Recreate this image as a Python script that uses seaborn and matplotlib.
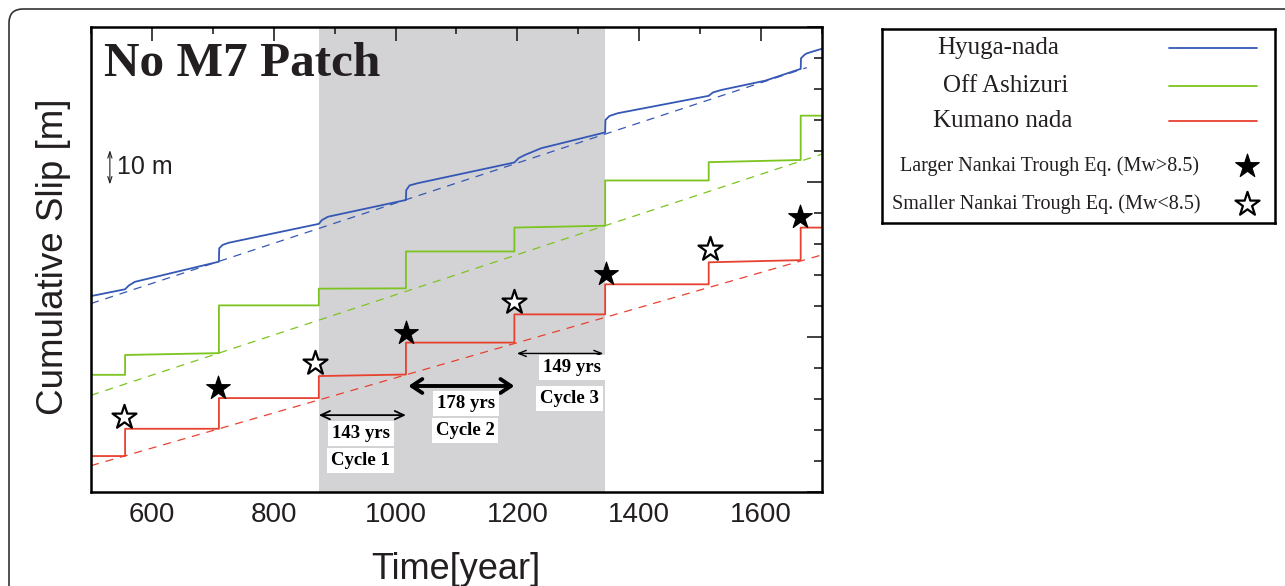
import numpy as np
import pandas as pd
import matplotlib
matplotlib.use("Agg")
import matplotlib.pyplot as plt
import seaborn as sns
from matplotlib.patches import FancyBboxPatch
from matplotlib.ticker import MultipleLocator

# ---------------- data ----------------
x_start, x_end = 500, 1700
event_years = [556, 710, 874, 1017, 1195, 1344, 1514, 1665]

red_seg_start = [11.6, 20.4, 30.3, 37.4, 48.2, 57.3, 67.0, 74.1, 85.3]
red_seg_end = [11.6, 20.4, 30.3, 37.9, 48.2, 57.3, 67.0, 74.8, 85.3]
green_seg_start = [37.8, 44.2, 60.2, 65.6, 77.6, 85.3, 100.5, 106.4, 121.4]
green_seg_end = [37.8, 44.8, 60.2, 65.7, 77.6, 85.9, 100.5, 107.1, 121.4]

blue_years = [500, 556, 562, 572, 710, 710.5, 716, 726, 874, 879, 889,
              1017, 1017.5, 1023, 1036, 1195, 1202, 1212, 1239,
              1344, 1344.5, 1351, 1365, 1514, 1521, 1535, 1607,
              1665, 1665.5, 1671, 1675, 1700]
blue_slip = [63.2, 65.4, 66.6, 67.8, 74.3, 78.6, 79.7, 80.4, 86.5, 87.7, 88.8,
             94.2, 97.4, 98.9, 99.6, 106.3, 107.7, 108.7, 110.9,
             116.0, 120.0, 121.3, 122.2, 127.8, 128.9, 129.7, 132.7,
             136.5, 139.9, 141.0, 141.5, 143.0]

blue_trend_years = [500, 1675]
blue_trend = [60.8, 136.9]
trend_years = [500, 1700]
green_trend = [31.2, 109.0]
red_trend = [8.5, 76.5]

large_eq_years = [709, 1017, 1346, 1664]
large_eq_slip = [33.6, 51.2, 70.2, 88.8]
small_eq_years = [554, 868, 1195, 1516]
small_eq_slip = [24.3, 41.5, 61.4, 78.4]

cycle_bounds = [874, 1017, 1195, 1344]
cycle_lengths = ["143 yrs", "178 yrs", "149 yrs"]
cycle_names = ["Cycle 1", "Cycle 2", "Cycle 3"]

series_names = ["Hyuga-nada", "Off Ashizuri", "Kumano nada"]
marker_names = ["Larger Nankai Trough Eq. (Mw>8.5)", "Smaller Nankai Trough Eq. (Mw<8.5)"]

# ---------------- style ----------------
sns.set_style("white")
plt.rcParams['font.family'] = ['Liberation Sans', 'DejaVu Sans']
SERIF = ['Liberation Serif', 'DejaVu Serif']
BLUE, GREEN, RED = "#3558b4", "#7cc41f", "#e8412f"
GRAY = "#d3d3d6"
TXT = "#231f20"


def step_path(seg_start, seg_end):
    bounds = [x_start] + event_years + [x_end]
    xs, ys = [], []
    for i in range(len(seg_start)):
        xs += [bounds[i], bounds[i + 1]]
        ys += [seg_start[i], seg_end[i]]
    return pd.DataFrame({"year": xs, "slip": ys})


fig = plt.figure(figsize=(12.85, 5.86), dpi=100)
ax = fig.add_axes([0.0708, 0.1604, 0.5689, 0.7935])

# shaded cycles
ax.axvspan(cycle_bounds[0], cycle_bounds[-1], color=GRAY, lw=0, zorder=0)

# trend (dashed) lines
dash = (0, (6.5, 5.5))
sns.lineplot(x=blue_trend_years, y=blue_trend, color=BLUE, lw=0.9, linestyle=dash, ax=ax)
sns.lineplot(x=trend_years, y=green_trend, color=GREEN, lw=0.9, linestyle=dash, ax=ax)
sns.lineplot(x=trend_years, y=red_trend, color=RED, lw=0.9, linestyle=dash, ax=ax)

# cumulative slip
blue_df = pd.DataFrame({"year": blue_years, "slip": blue_slip})
sns.lineplot(data=blue_df, x="year", y="slip", sort=False, estimator=None,
             color=BLUE, lw=1.3, ax=ax)
sns.lineplot(data=step_path(green_seg_start, green_seg_end), x="year", y="slip",
             sort=False, estimator=None, color=GREEN, lw=1.3, ax=ax)
sns.lineplot(data=step_path(red_seg_start, red_seg_end), x="year", y="slip",
             sort=False, estimator=None, color=RED, lw=1.3, ax=ax)

# earthquake stars
sns.scatterplot(x=large_eq_years, y=large_eq_slip, marker="*", s=320,
                color="black", edgecolor="black", linewidth=0.8, ax=ax, zorder=5)
sns.scatterplot(x=small_eq_years, y=small_eq_slip, marker="*", s=330,
                color="white", edgecolor="black", linewidth=1.6, ax=ax, zorder=5)

# cycle arrows and labels
arrow_y = [24.8, 34.2, 44.7]
arrow_lw = [1.3, 2.8, 1.0]
arrow_head = [(0.65, 0.3), (0.75, 0.5), (0.55, 0.22)]
arrow_inset = [(0, 0), (4, 0), (4, 3)]
len_pos = [(943, 18.9), (1116, 28.6), (1289, 40.2)]
name_pos = [(943, 10.3), (1114, 19.8), (1285, 30.2)]
for i in range(3):
    x0 = cycle_bounds[i] + arrow_inset[i][0]
    x1 = cycle_bounds[i + 1] - arrow_inset[i][1]
    hl, hw = arrow_head[i]
    ax.annotate("", xy=(x0, arrow_y[i]), xytext=(x1, arrow_y[i]),
                arrowprops=dict(arrowstyle=f"<->,head_length={hl},head_width={hw}",
                                lw=arrow_lw[i], color="black",
                                shrinkA=0, shrinkB=0), zorder=6)
    for txt, pos in ((cycle_lengths[i], len_pos[i]), (cycle_names[i], name_pos[i])):
        ax.text(pos[0], pos[1], txt, ha="center", va="center", fontsize=13.5,
                fontweight="bold", family=SERIF, color="black", zorder=7,
                bbox=dict(facecolor="white", edgecolor="none", pad=2.8))

# scale bar 10 m
ax.annotate("", xy=(531, 99.2), xytext=(531, 110.3),
            arrowprops=dict(arrowstyle="<->,head_length=0.45,head_width=0.15",
                            lw=0.8, color=TXT, shrinkA=0, shrinkB=0))
ax.text(543, 104.8, "10 m", ha="left", va="center", fontsize=18, color=TXT)

# title
ax.text(0.0178, 0.8946, "No M7 Patch", transform=ax.transAxes, ha="left",
        va="baseline", fontsize=35.5, fontweight="bold", family=SERIF, color=TXT)

# axes formatting
ax.set_xlim(x_start, x_end)
ax.set_ylim(0, 150)
ax.xaxis.set_major_locator(MultipleLocator(200))
ax.xaxis.set_minor_locator(MultipleLocator(100))
ax.yaxis.set_major_locator(MultipleLocator(50))
ax.yaxis.set_minor_locator(MultipleLocator(10))
ax.tick_params(which="both", direction="in", top=True, right=True,
               color=TXT, width=1.2, labelleft=False)
ax.tick_params(axis="x", which="major", length=10, labelsize=20, labelcolor=TXT, pad=7)
ax.tick_params(axis="x", which="minor", length=5)
ax.tick_params(axis="y", which="major", length=11)
ax.tick_params(axis="y", which="minor", length=6)
for sp in ax.spines.values():
    sp.set_visible(True)
    sp.set_linewidth(1.8)
    sp.set_color("black")
ax.set_xlabel("Time[year]", fontsize=26, color=TXT)
ax.set_ylabel("Cumulative Slip [m]", fontsize=26.5, color=TXT)
ax.xaxis.set_label_coords(0.499, -0.128)
ax.yaxis.set_label_coords(-0.028, 0.507)

# ---------------- custom legend box ----------------
lax = fig.add_axes([0.6861, 0.619, 0.3061, 0.331])
lax.set_xlim(0, 1)
lax.set_ylim(0, 1)
lax.set_xticks([])
lax.set_yticks([])
for sp in lax.spines.values():
    sp.set_visible(True)
    sp.set_linewidth(1.8)
    sp.set_color("black")
line_rows = [(series_names[0], BLUE, 0.2957, 0.902),
             (series_names[1], GREEN, 0.315, 0.708),
             (series_names[2], RED, 0.308, 0.527)]
for name, col, tx, ty in line_rows:
    lax.text(tx, ty, name, ha="center", va="center", fontsize=18, family=SERIF, color=TXT)
    lax.plot([0.730, 0.954], [ty, ty], color=col, lw=1.3)
lax.text(0.4276, 0.295, marker_names[0], ha="center", va="center", fontsize=14.5,
         family=SERIF, color=TXT)
lax.text(0.4177, 0.098, marker_names[1], ha="center", va="center", fontsize=14.5,
         family=SERIF, color=TXT)
lax.scatter([0.929], [0.295], marker="*", s=320, color="black", edgecolor="black", linewidth=0.8)
lax.scatter([0.929], [0.098], marker="*", s=330, color="white", edgecolor="black", linewidth=1.6)

# outer rounded frame
frame = FancyBboxPatch((0.09, -1.0), 15.0, 6.77, boxstyle="round,pad=0,rounding_size=0.14",
                       transform=fig.dpi_scale_trans, fill=False, ec="#333333", lw=1.2)
fig.add_artist(frame)

fig.savefig("out.png", dpi=100)
